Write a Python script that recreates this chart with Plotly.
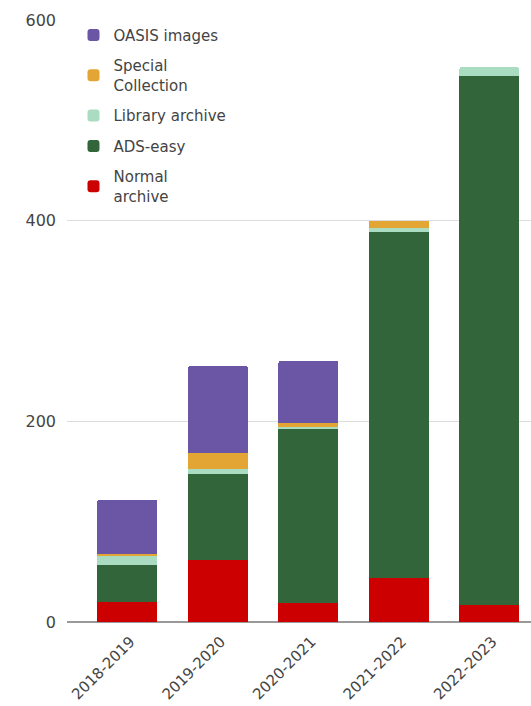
import plotly.graph_objects as go

# Academic years on the category axis
years = ["2018-2019", "2019-2020", "2020-2021", "2021-2022", "2022-2023"]

# Counts per source, stacked bottom to top
normal_archive = [20, 62, 19, 44, 17]
ads_easy = [37, 86, 173, 345, 527]
library_archive = [9, 4, 2, 4, 9]
special_collection = [2, 16, 4, 7, 0]
oasis_images = [54, 87, 62, 0, 0]

series = [
    ("Normal<br>archive", normal_archive, "#cc0000"),
    ("ADS-easy", ads_easy, "#33653a"),
    ("Library archive", library_archive, "#a9dcc1"),
    ("Special<br>Collection", special_collection, "#e3a534"),
    ("OASIS images", oasis_images, "#6a56a5"),
]

FONT = "DejaVu Sans, Verdana, sans-serif"

fig = go.Figure()
n = len(series)
for i, (name, vals, color) in enumerate(series):
    fig.add_trace(go.Bar(
        x=years, y=vals, name=name,
        marker=dict(color=color, line=dict(width=0)),
        legendgroup=f"g{i}",
        legendrank=n - i,
        hoverinfo="x+y+name",
    ))

fig.update_layout(
    width=531, height=706,
    margin=dict(l=67, r=0, t=20, b=84),
    barmode="stack",
    bargap=0.337,
    barcornerradius=2,
    plot_bgcolor="white",
    paper_bgcolor="white",
    font=dict(family=FONT, size=15, color="#444444"),
    showlegend=True,
    legend=dict(
        x=0.014, y=1.002, xanchor="left", yanchor="top",
        traceorder="grouped",
        tracegroupgap=8,
        bgcolor="rgba(0,0,0,0)",
        font=dict(family=FONT, size=15, color="#444444"),
    ),
    xaxis=dict(
        range=[-0.668, 4.459],
        tickangle=-45,
        tickfont=dict(family=FONT, size=15, color="#444444"),
        showgrid=False,
        showline=False,
        ticks="",
        ticklabelstandoff=7,
        ticklabelshift=3,
    ),
    yaxis=dict(
        range=[0, 600],
        tickvals=[0, 200, 400, 600],
        tickfont=dict(family=FONT, size=16, color="#444444"),
        showgrid=True,
        gridcolor="#dddddd",
        gridwidth=1,
        zeroline=True,
        zerolinecolor="#999999",
        zerolinewidth=2,
        ticks="",
        ticklabelstandoff=10,
    ),
)

fig.write_html("out.html")
